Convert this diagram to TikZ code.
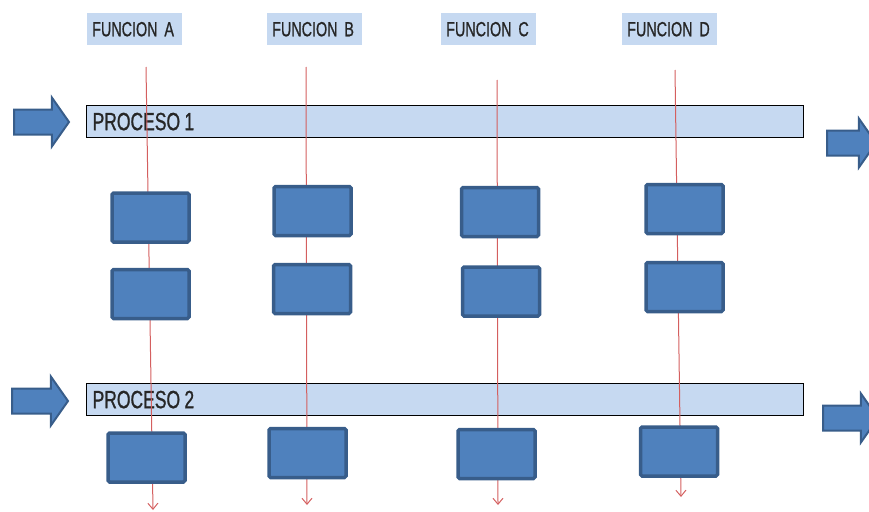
\documentclass[tikz,border=0pt]{standalone}
\usepackage{fontspec}
\setmainfont{Liberation Sans}[FakeStretch=0.7, FakeBold=0.8]
\usepackage{tikz}
\usetikzlibrary{shapes.arrows,arrows.meta}

\definecolor{azul}{RGB}{79,129,189}
\definecolor{azulborde}{RGB}{56,93,138}
\definecolor{celeste}{RGB}{198,217,241}
\definecolor{rojo}{RGB}{212,95,95}

% tight word space in the process bars
\newcommand\pesp{\kern-4pt\ }

\tikzset{
  funcion/.style={fill=celeste, anchor=north west, minimum height=32pt,
    inner xsep=5pt, text width=85pt, align=left, text=black!85,
    font=\fontsize{20.5}{22}\selectfont},
  proceso/.style={draw=black, line width=1.2pt, fill=celeste, anchor=north west,
    minimum height=32pt, inner xsep=6pt, text width=705pt, align=left, text=black!85,
    font=\fontsize{25}{27}\selectfont},
  tarea/.style={draw=azulborde, line width=3.5pt, fill=azul, rounded corners=1.5pt,
    minimum width=77pt, minimum height=49pt},
  flecha/.style={single arrow, draw=azulborde, line width=2pt, fill=azul,
    anchor=tail, inner xsep=0pt, inner ysep=11.5pt, minimum width=48pt,
    single arrow head extend=12pt, single arrow tip angle=110},
  flujo/.style={rojo, line width=1pt, -{Straight Barb[length=6pt,width=10pt]}}
}

\begin{document}
\begin{tikzpicture}[x=1pt,y=-1pt]
  \useasboundingbox (0,0) rectangle (869,511);
  \clip (0,0) rectangle (869,511);

  % Function headings
  \node[funcion] (funA) at (87,13) {FUNCION A};
  \node[funcion] (funB) at (267,13) {FUNCION B};
  \node[funcion] (funC) at (441,13) {FUNCION C};
  \node[funcion] (funD) at (622,13) {FUNCION D};

  % Process bars
  \node[proceso] (proc1) at (86,105) {PROCESO\pesp1};
  \node[proceso] (proc2) at (86,383) {PROCESO\pesp2};

  % Input and output arrows
  \node[flecha, minimum height=55pt] (in1) at (13,122) {};
  \node[flecha, minimum height=56pt] (in2) at (11,401) {};
  \node[flecha, minimum height=49pt] (out1) at (826,143) {};
  \node[flecha, minimum height=55pt] (out2) at (822,418) {};

  % Flow lines of each function
  \coordinate (topA) at (146,67);  \coordinate (endA) at (153,510);
  \coordinate (topB) at (306,67);  \coordinate (endB) at (307,505);
  \coordinate (topC) at (497,80);  \coordinate (endC) at (498,505);
  \coordinate (topD) at (675,70);  \coordinate (endD) at (681,497);
  \foreach \f in {A,B,C,D} {
    \draw[flujo] (top\f) -- (end\f);
  }

  % Tasks
  \node[tarea] (a1) at (150.5,217.5) {};
  \node[tarea] (a2) at (150.5,294) {};
  \node[tarea] (a3) at (146.5,457.5) {};
  \node[tarea] (b1) at (312.5,211) {};
  \node[tarea] (b2) at (312,289) {};
  \node[tarea] (b3) at (307.5,453) {};
  \node[tarea] (c1) at (500,212) {};
  \node[tarea] (c2) at (501,291.5) {};
  \node[tarea] (c3) at (496.5,454) {};
  \node[tarea] (d1) at (684.5,209) {};
  \node[tarea] (d2) at (684.5,287) {};
  \node[tarea] (d3) at (679,451.5) {};
\end{tikzpicture}
\end{document}
